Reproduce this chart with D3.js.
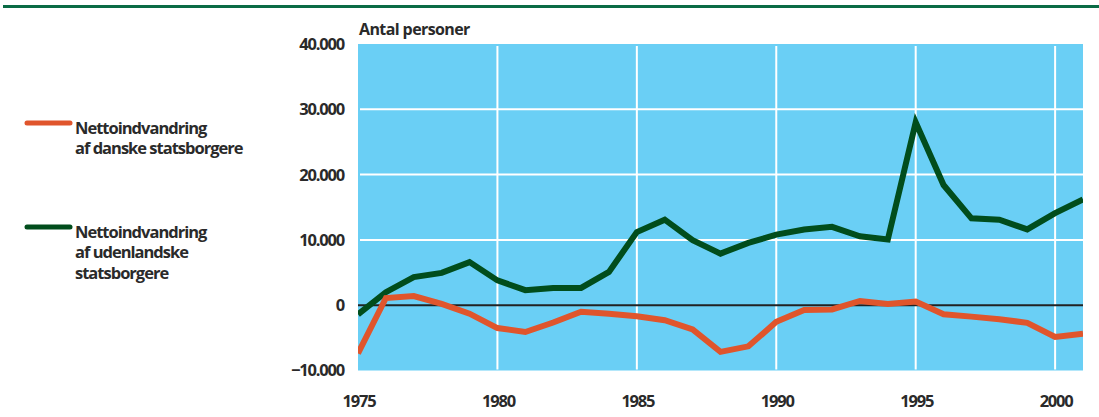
<!DOCTYPE html>
<meta charset="utf-8">
<style>
  body { margin: 0; background: #fff; }
  svg text { font-family: "Open Sans", Lato, sans-serif; font-weight: 700; fill: #2a2a2a; }
</style>
<body>
<script src="https://d3js.org/d3.v7.min.js"></script>
<script>
  var years = d3.range(1975, 2002);
  // Nettoindvandring af danske statsborgere
  var danske = [-7400, 1100, 1400, 200, -1300, -3500, -4100, -2650, -1000, -1300,
    -1700, -2300, -3700, -7150, -6300, -2550, -750, -650, 650, 200,
    550, -1400, -1750, -2150, -2700, -4850, -4350];
  // Nettoindvandring af udenlandske statsborgere
  var udenlandske = [-1400, 2000, 4300, 4950, 6600, 3800, 2300, 2650, 2650, 5100,
    11200, 13100, 9950, 7900, 9550, 10800, 11600, 12000, 10550, 10050,
    28000, 18400, 13300, 13100, 11600, 14100, 16200];
  var yTicks = [-10000, 0, 10000, 20000, 30000, 40000];
  var xTicks = [1975, 1980, 1985, 1990, 1995, 2000];
  var legendItems = [
    { color: "#e0552c", lines: ["Nettoindvandring", "af danske statsborgere"] },
    { color: "#014d1c", lines: ["Nettoindvandring", "af udenlandske", "statsborgere"] }
  ];

  var W = 1099, H = 417;
  var margin = { top: 44, right: 16, bottom: 46.5, left: 358 };
  var width = W - margin.left - margin.right,
      height = H - margin.top - margin.bottom;

  var x = d3.scaleLinear().domain([1975, 2001]).range([0, width]);
  var y = d3.scaleLinear().domain([-10000, 40000]).range([height, 0]);
  var fmt = function (d) { return d3.format(",")(d).replace(/,/g, "."); };

  var svg = d3.select("body").append("svg")
    .attr("width", W)
    .attr("height", H);

  // top rule
  svg.append("rect")
    .attr("x", 3).attr("y", 5)
    .attr("width", W - 3).attr("height", 3)
    .attr("fill", "#0a6b45");

  var g = svg.append("g")
    .attr("transform", "translate(" + margin.left + "," + margin.top + ")");

  g.append("rect")
    .attr("width", width)
    .attr("height", height)
    .attr("fill", "#6acff5");

  // grid
  g.selectAll(".vgrid")
    .data(xTicks.slice(1))
    .enter().append("line")
    .attr("x1", function (d) { return x(d); })
    .attr("x2", function (d) { return x(d); })
    .attr("y1", 2).attr("y2", height - 1)
    .attr("stroke", "#fff").attr("stroke-width", 2);

  g.selectAll(".hgrid")
    .data([10000, 20000, 30000])
    .enter().append("line")
    .attr("x1", 2).attr("x2", width)
    .attr("y1", function (d) { return y(d); })
    .attr("y2", function (d) { return y(d); })
    .attr("stroke", "#fff").attr("stroke-width", 2);

  // zero line
  g.append("line")
    .attr("x1", 0).attr("x2", width)
    .attr("y1", y(0)).attr("y2", y(0))
    .attr("stroke", "#222").attr("stroke-width", 2);

  g.append("clipPath").attr("id", "plotclip")
    .append("rect").attr("width", width).attr("height", height);

  var line = d3.line()
    .x(function (d, i) { return x(years[i]); })
    .y(function (d) { return y(d); });

  var lines = g.append("g").attr("clip-path", "url(#plotclip)");
  lines.append("path")
    .datum(udenlandske)
    .attr("d", line)
    .attr("fill", "none")
    .attr("stroke", legendItems[1].color)
    .attr("stroke-width", 6)
    .attr("stroke-linejoin", "miter");
  lines.append("path")
    .datum(danske)
    .attr("d", line)
    .attr("fill", "none")
    .attr("stroke", legendItems[0].color)
    .attr("stroke-width", 6)
    .attr("stroke-linejoin", "miter");

  // y axis labels
  g.selectAll(".ylab")
    .data(yTicks)
    .enter().append("text")
    .attr("x", -14)
    .attr("y", function (d) { return y(d); })
    .attr("dy", "0.36em")
    .attr("text-anchor", "end")
    .style("font-size", "16.5px")
    .style("letter-spacing", "-1.2px")
    .text(fmt);

  // x axis labels
  g.selectAll(".xlab")
    .data(xTicks)
    .enter().append("text")
    .attr("x", function (d) { return x(d) + 1; })
    .attr("y", height + 36)
    .attr("text-anchor", "middle")
    .style("font-size", "16.5px")
    .style("letter-spacing", "-1.2px")
    .text(function (d) { return d; });

  g.append("text")
    .attr("x", 1)
    .attr("y", -9)
    .style("font-size", "16px")
    .style("letter-spacing", "-0.6px")
    .text("Antal personer");

  // legend
  var legY = [123, 227];
  var leg = svg.selectAll(".legend")
    .data(legendItems)
    .enter().append("g")
    .attr("transform", function (d, i) { return "translate(0," + legY[i] + ")"; });

  leg.append("line")
    .attr("x1", 27).attr("x2", 70)
    .attr("y1", 0).attr("y2", 0)
    .attr("stroke", function (d) { return d.color; })
    .attr("stroke-width", 5)
    .attr("stroke-linecap", "round");

  leg.append("text")
    .attr("x", 75)
    .attr("y", 10.5)
    .style("font-size", "16.5px")
    .style("letter-spacing", "-1px")
    .selectAll("tspan")
    .data(function (d) { return d.lines; })
    .enter().append("tspan")
    .attr("x", 75)
    .attr("dy", function (d, i) { return i === 0 ? 0 : 20.5; })
    .text(function (d) { return d; });
</script>
</body>
